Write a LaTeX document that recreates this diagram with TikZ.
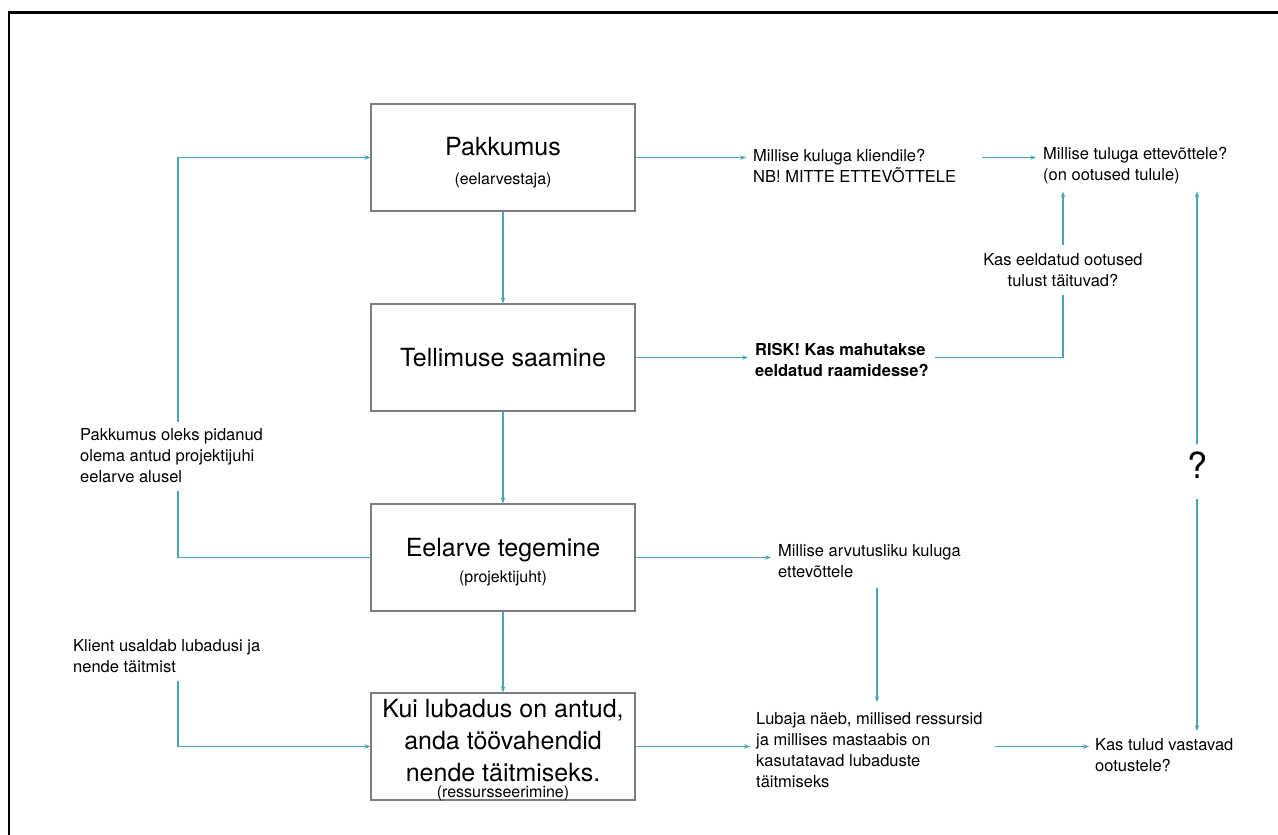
\documentclass[tikz,border=0pt]{standalone}
\usepackage{fontspec}
\setmainfont{TeX Gyre Heros}
\usetikzlibrary{arrows.meta}
\definecolor{tealline}{RGB}{72,165,180}
\definecolor{boxgray}{RGB}{125,125,125}
\newcommand\bxfont{\fontsize{25}{32}\selectfont}
\newcommand\subfnt{\fontsize{16}{19}\selectfont}
\newcommand\lbfont{\fontsize{16.5}{21}\selectfont}
\tikzset{
  box/.style={draw=boxgray, line width=1.3pt, minimum width=264pt, minimum height=107pt, inner sep=0pt, align=center, font=\bxfont},
  lbl/.style={inner sep=0pt, align=left, anchor=west, font=\lbfont},
  conn/.style={draw=tealline, line width=1.1pt},
  arr/.style={conn, -{Stealth[length=6pt,width=4.5pt]}},
}
\begin{document}
\begin{tikzpicture}[x=1pt,y=-1pt]
\useasboundingbox (0,0) rectangle (1278,835);
\draw[line width=2.8pt] (9,835) -- (9,12.5) -- (1278,12.5);
% columns
\coordinate (c1) at (178,0);
\coordinate (c4) at (877,0);
% boxes
\node[box] (pak) at (503,157.5) {\rule{0pt}{28pt}Pakkumus\\[-3pt]{\subfnt (eelarvestaja)}};
\node[box] (tel) at (503,357.5) {Tellimuse saamine};
\node[box] (eel) at (503,557.5) {\rule{0pt}{28pt}Eelarve tegemine\\[-6pt]{\subfnt (projektijuht)}};
\node[box] (kui) at (503,746.5) {};
\node[inner sep=0pt, align=center, font=\bxfont, anchor=north] (kuit) at (503,699.5) {Kui lubadus on antud,\\anda töövahendid\\nende täitmiseks.\\[-16pt]{\subfnt (ressursseerimine)}};
% labels
\node[lbl] (q1) at (753,166) {Millise kuluga kliendile?\\NB! MITTE ETTEVÕTTELE};
\node[lbl] (q2) at (1043,166) {Millise tuluga ettevõttele?\\(on ootused tulule)};
\node[lbl, anchor=center, align=center] (q3) at (1063,270) {Kas eeldatud ootused\\tulust täituvad?};
\node[lbl, font=\lbfont\bfseries] (q4) at (755,359.5) {RISK! Kas mahutakse\\eeldatud raamidesse?};
\node[lbl] (pk) at (80,456) {Pakkumus oleks pidanud\\olema antud projektijuhi\\eelarve alusel};
\node[lbl] (q5) at (778,561) {Millise arvutusliku kuluga\\ettevõttele};
\node[lbl] (q6) at (756,750) {Lubaja näeb, millised ressursid\\ja millises mastaabis on\\kasutatavad lubaduste\\täitmiseks};
\node[lbl] (q7) at (1095,755) {Kas tulud vastavad\\ootustele?};
\node[lbl] (kl) at (73,656) {Klient usaldab lubadusi ja\\nende täitmist};
\node[inner sep=0pt, font=\fontsize{36}{40}\selectfont] (qm) at (1197,465) {?};
% connectors
\draw[arr] (pak) -- (tel);
\draw[arr] (tel) -- (eel);
\draw[arr] (eel) -- (kui);
\draw[arr, shorten >=7pt] (pak.east) -- (pak.east -| q1.west);
\draw[arr] ([xshift=26pt]q1.east |- pak.east) -- ([xshift=-7pt]q2.west |- pak.east);
\draw[arr, shorten >=7pt] (tel.east) -- (tel.east -| q4.west);
\draw[conn] ([xshift=6pt]q4.east |- tel.east) -| ([yshift=-8pt]q3.south);
\draw[arr] ([yshift=8pt]q3.north) -- ([yshift=-7pt]q2.south -| q3.north);
\draw[conn] (eel.west) -| ([yshift=-8pt]pk.south -| c1);
\draw[arr] ([yshift=7pt]pk.north -| c1) |- (pak.west);
\draw[arr, shorten >=7pt] (eel.east) -- (eel.east -| q5.west);
\draw[arr] ([yshift=-10pt]q5.south -| c4) -- ([yshift=10pt]q6.north -| c4);
\draw[arr, shorten >=6pt] (kui.east) -- (kui.east -| q6.west);
\draw[arr] ([xshift=12pt]q6.east |- kui.east) -- ([xshift=-6pt]q7.west |- kui.east);
\draw[arr] ([yshift=7pt]qm.north) -- ([yshift=-7pt]qm.north |- q2.south);
\draw[arr] ([yshift=-20pt]qm.south) -- ([yshift=7pt]qm.south |- q7.north);
\draw[arr] ([yshift=-8pt]kl.south -| c1) |- (kui.west);
\end{tikzpicture}
\end{document}
